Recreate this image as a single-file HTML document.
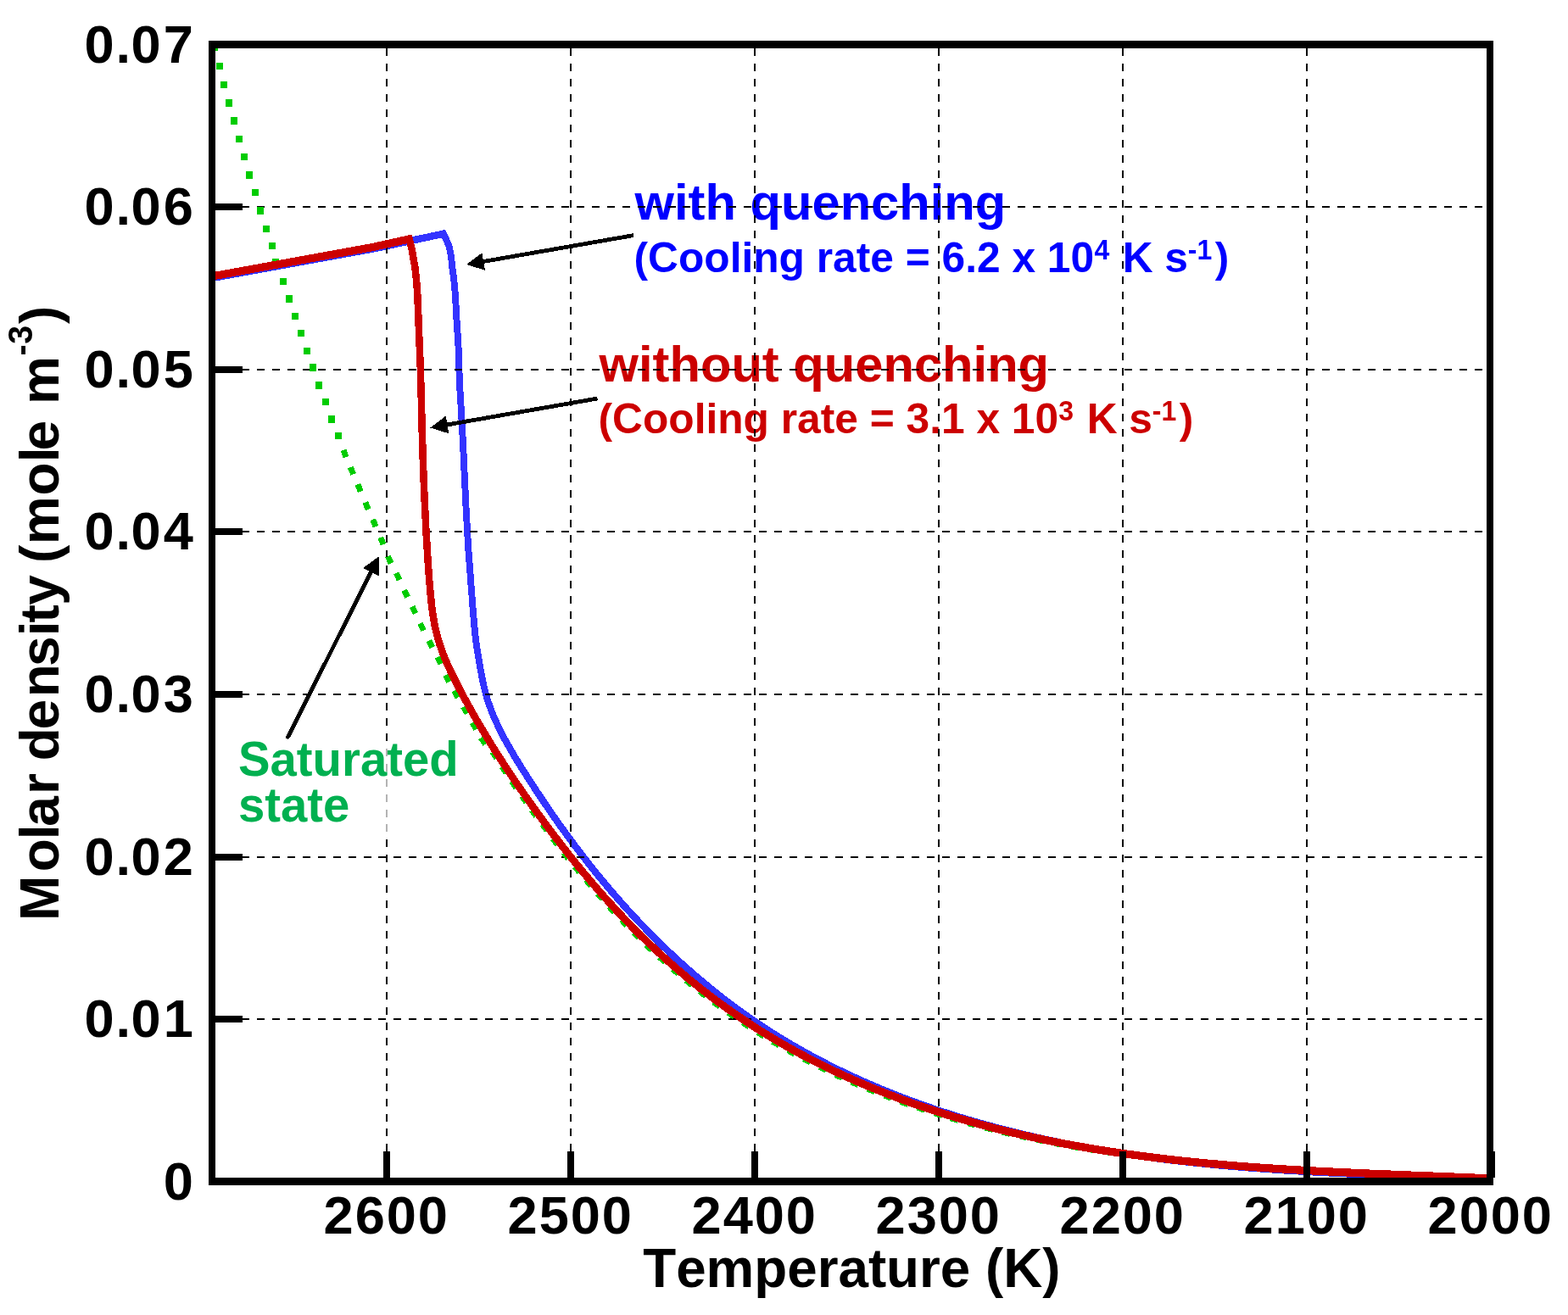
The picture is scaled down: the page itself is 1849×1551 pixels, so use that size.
<!DOCTYPE html>
<html lang="en"><head><meta charset="utf-8"><title>Molar density vs Temperature</title>
<style>
html,body{margin:0;padding:0;background:#fff;}
body{width:1849px;height:1551px;overflow:hidden;}
svg{display:block;}
text{font-family:"Liberation Sans",sans-serif;font-weight:bold;font-kerning:none;white-space:pre;}
</style></head><body>
<svg width="1849" height="1551" viewBox="0 0 1849 1551" shape-rendering="crispEdges">
<rect width="1849" height="1551" fill="#fff"/>

<g fill="#0000ff"><text transform="translate(748.60,259.20) scale(1,1.0)" font-size="59.7">with quenching</text><text transform="translate(747.52,320.80) scale(1,1.02)" font-size="49.7">(Cooling rate = 6.2 x 10</text><text transform="translate(1290.62,306.00) scale(1,1.06)" font-size="32">4</text><text transform="translate(1323.68,320.80) scale(1,1.02)" font-size="49.7">K s</text><text transform="translate(1400.75,306.00) scale(1,1.06)" font-size="32">-1</text><text transform="translate(1432.85,320.80) scale(1,1.02)" font-size="49.7">)</text></g>
<g fill="#cc0000"><text transform="translate(706.60,449.60) scale(1,1.0)" font-size="59.7">without quenching</text><text transform="translate(705.52,511.20) scale(1,1.02)" font-size="49.7">(Cooling rate = 3.1 x 10</text><text transform="translate(1248.37,496.40) scale(1,1.06)" font-size="32">3</text><text transform="translate(1281.68,511.20) scale(1,1.02)" font-size="49.7">K s</text><text transform="translate(1358.75,496.40) scale(1,1.06)" font-size="32">-1</text><text transform="translate(1390.85,511.20) scale(1,1.02)" font-size="49.7">)</text></g>
<clipPath id="cp"><rect x="250" y="52.5" width="1507" height="1341.0"/></clipPath>
<g clip-path="url(#cp)" fill="none" stroke-linejoin="miter" stroke-miterlimit="10">
<path transform="scale(1,1.08)" d="M250.0,303.70 L440.0,271.67 L523.0,255.28 L529.3,268.06 L532.0,279.63 L533.2,291.67 L533.3,292.37 L533.4,293.07 L533.6,293.77 L533.7,294.47 L533.8,295.17 L533.9,295.87 L534.0,296.57 L534.1,297.27 L534.2,297.97 L534.3,298.67 L534.4,299.38 L534.5,300.08 L534.6,300.78 L534.7,301.48 L534.8,302.18 L534.9,302.89 L535.0,303.59 L535.1,304.29 L535.2,305.00 L535.3,305.70 L535.3,306.40 L535.4,307.11 L535.5,307.81 L535.6,308.52 L535.7,309.22 L535.7,309.92 L535.8,310.63 L535.9,311.33 L535.9,312.04 L536.0,312.74 L536.1,313.45 L536.1,314.15 L536.2,314.86 L536.3,315.56 L536.3,316.27 L536.4,316.97 L536.5,317.68 L536.5,318.39 L536.6,319.09 L536.6,319.80 L536.7,320.50 L536.7,321.21 L536.8,321.92 L536.8,322.62 L536.9,323.33 L536.9,324.03 L537.0,324.74 L537.0,325.45 L537.1,326.15 L537.1,326.86 L537.2,327.57 L537.2,328.27 L537.3,328.98 L537.3,329.69 L537.4,330.39 L537.4,331.10 L537.5,331.81 L537.5,332.51 L537.5,333.22 L537.6,333.93 L537.6,334.63 L537.7,335.34 L537.7,336.05 L537.7,336.75 L537.8,337.46 L537.8,338.17 L537.9,338.88 L537.9,339.58 L538.0,340.29 L538.0,341.00 L538.0,341.70 L538.1,342.41 L538.1,343.12 L538.2,343.82 L538.2,344.53 L538.2,345.24 L538.3,345.94 L538.3,346.65 L538.4,347.36 L538.4,348.06 L538.5,348.77 L538.5,349.48 L538.6,350.18 L538.6,350.89 L538.6,351.60 L538.7,352.30 L538.7,353.01 L538.8,353.72 L538.8,354.42 L538.9,355.13 L538.9,355.83 L539.0,356.54 L539.1,357.25 L539.1,357.95 L539.2,358.66 L539.2,359.37 L539.3,360.07 L539.3,360.78 L539.4,361.48 L539.4,362.19 L539.5,362.90 L539.5,363.60 L539.6,364.31 L539.6,365.01 L539.7,365.72 L539.7,366.43 L539.8,367.13 L539.8,367.84 L539.9,368.55 L539.9,369.25 L540.0,369.96 L540.0,370.66 L540.1,371.37 L540.1,372.08 L540.2,372.78 L540.2,373.49 L540.3,374.20 L540.3,374.90 L540.3,375.61 L540.4,376.32 L540.4,377.02 L540.5,377.73 L540.5,378.44 L540.5,379.14 L540.6,379.85 L540.7,383.22 L540.8,386.58 L540.9,389.95 L541.1,393.32 L541.2,396.69 L541.3,400.06 L541.4,403.42 L541.5,406.79 L541.7,410.16 L541.8,413.52 L542.0,416.89 L542.2,420.25 L542.3,423.62 L542.5,426.98 L542.7,430.35 L542.9,433.71 L543.2,437.07 L543.4,440.44 L543.6,443.80 L543.8,447.16 L544.0,450.53 L544.2,453.89 L544.4,457.25 L544.6,460.62 L544.8,463.98 L545.0,467.34 L545.2,470.71 L545.4,474.07 L545.6,477.44 L545.8,480.80 L546.0,484.17 L546.2,487.53 L546.3,490.90 L546.5,494.26 L546.7,497.63 L546.9,501.00 L547.0,504.36 L547.2,507.73 L547.4,511.09 L547.5,514.46 L547.7,517.82 L547.9,521.19 L548.0,524.56 L548.2,527.92 L548.4,531.29 L548.5,534.65 L548.7,538.02 L548.9,541.38 L549.1,544.75 L549.2,548.11 L549.4,551.48 L549.6,554.84 L549.8,558.21 L550.0,561.57 L550.2,564.93 L550.4,568.30 L550.6,571.66 L550.8,575.03 L551.0,578.39 L551.2,581.75 L551.4,585.11 L551.6,588.48 L551.8,591.84 L552.1,595.20 L552.3,598.56 L552.5,601.92 L552.8,605.28 L553.1,608.64 L553.3,612.00 L553.6,615.36 L553.9,618.72 L554.1,622.08 L554.4,625.44 L554.7,628.79 L555.0,632.15 L555.2,635.51 L555.5,638.87 L555.8,642.23 L556.1,645.59 L556.4,648.95 L556.6,652.31 L556.9,655.67 L557.2,659.03 L557.4,662.39 L557.7,665.76 L558.0,669.12 L558.3,672.47 L558.6,675.83 L558.9,679.19 L559.2,682.54 L559.6,685.89 L559.9,689.24 L560.3,692.58 L560.7,695.92 L561.2,699.26 L561.7,702.59 L562.2,705.92 L562.7,709.24 L563.3,712.57 L563.9,715.89 L564.4,719.22 L565.0,722.55 L565.7,725.88 L566.3,729.21 L566.9,732.55 L567.6,735.88 L568.2,739.20 L569.0,742.52 L569.7,745.83 L570.5,749.12 L571.4,752.40 L572.3,755.66 L573.2,758.91 L574.2,762.13 L575.3,765.34 L576.5,768.52 L577.7,771.68 L578.9,774.83 L580.2,777.96 L581.6,781.07 L583.0,784.16 L584.5,787.24 L586.0,790.30 L587.5,793.34 L589.1,796.37 L590.7,799.39 L592.4,802.39 L594.1,805.38 L595.8,808.36 L597.6,811.32 L599.4,814.27 L601.2,817.21 L603.0,820.14 L604.9,823.06 L606.7,825.97 L608.6,828.88 L610.5,831.77 L612.5,834.65 L614.4,837.53 L616.3,840.40 L618.3,843.27 L620.3,846.12 L622.2,848.97 L624.2,851.82 L626.2,854.66 L628.2,857.49 L630.1,860.32 L632.1,863.14 L634.1,865.96 L636.2,868.77 L638.2,871.57 L640.2,874.37 L642.2,877.16 L644.3,879.94 L646.3,882.72 L648.4,885.49 L650.4,888.26 L652.5,891.02 L654.6,893.77 L656.6,896.52 L658.7,899.26 L660.8,901.99 L662.9,904.72 L665.1,907.44 L667.2,910.15 L669.3,912.86 L671.5,915.56 L673.6,918.26 L675.8,920.95 L677.9,923.63 L680.1,926.30 L682.3,928.97 L684.5,931.64 L686.7,934.29 L688.9,936.94 L691.1,939.58 L693.3,942.22 L695.6,944.85 L697.8,947.47 L700.1,950.08 L702.4,952.69 L704.6,955.29 L706.9,957.89 L709.2,960.48 L711.5,963.06 L713.9,965.63 L716.2,968.20 L718.5,970.76 L720.9,973.32 L723.3,975.86 L725.6,978.40 L728.0,980.94 L730.4,983.46 L732.8,985.98 L735.3,988.49 L737.7,991.00 L740.1,993.50 L742.6,995.98 L745.0,998.47 L747.5,1000.94 L750.0,1003.41 L752.5,1005.87 L755.0,1008.32 L757.5,1010.76 L760.1,1013.19 L762.6,1015.62 L765.2,1018.03 L767.7,1020.44 L770.3,1022.84 L772.9,1025.23 L775.5,1027.61 L778.1,1029.98 L780.7,1032.35 L783.3,1034.70 L786.0,1037.04 L788.6,1039.38 L791.3,1041.70 L793.9,1044.01 L796.6,1046.32 L799.3,1048.61 L802.0,1050.89 L804.7,1053.17 L807.4,1055.43 L810.2,1057.68 L812.9,1059.92 L815.7,1062.15 L818.4,1064.37 L821.2,1066.57 L824.0,1068.77 L826.8,1070.96 L829.6,1073.13 L832.4,1075.29 L835.2,1077.44 L838.0,1079.58 L840.9,1081.70 L843.7,1083.82 L846.6,1085.92 L849.5,1088.00 L852.3,1090.08 L855.2,1092.14 L858.1,1094.19 L861.0,1096.23 L864.0,1098.26 L866.9,1100.27 L869.8,1102.27 L872.8,1104.25 L875.7,1106.22 L878.7,1108.18 L881.7,1110.12 L884.7,1112.05 L887.7,1113.97 L890.7,1115.87 L893.7,1117.76 L896.7,1119.63 L899.7,1121.49 L902.8,1123.33 L905.8,1125.17 L908.9,1126.98 L911.9,1128.79 L915.0,1130.57 L918.1,1132.35 L921.2,1134.11 L924.3,1135.86 L927.4,1137.59 L930.5,1139.32 L933.6,1141.02 L936.8,1142.72 L939.9,1144.40 L943.1,1146.06 L946.2,1147.72 L949.4,1149.36 L952.6,1150.99 L955.8,1152.60 L958.9,1154.20 L962.1,1155.79 L965.3,1157.36 L968.6,1158.92 L971.8,1160.47 L975.0,1162.01 L978.2,1163.53 L981.5,1165.04 L984.7,1166.54 L988.0,1168.02 L991.2,1169.50 L994.5,1170.96 L997.8,1172.40 L1001.1,1173.84 L1004.4,1175.26 L1007.6,1176.67 L1010.9,1178.07 L1014.3,1179.45 L1017.6,1180.83 L1020.9,1182.19 L1024.2,1183.54 L1027.5,1184.87 L1030.9,1186.20 L1034.2,1187.51 L1037.6,1188.81 L1040.9,1190.10 L1044.3,1191.38 L1047.7,1192.65 L1051.0,1193.90 L1054.4,1195.14 L1057.8,1196.37 L1061.2,1197.59 L1064.6,1198.80 L1068.0,1200.00 L1071.4,1201.18 L1074.8,1202.36 L1078.2,1203.52 L1081.6,1204.67 L1085.0,1205.81 L1088.5,1206.94 L1091.9,1208.06 L1095.3,1209.16 L1098.8,1210.26 L1102.2,1211.34 L1105.7,1212.42 L1109.1,1213.48 L1112.6,1214.53 L1116.1,1215.57 L1119.5,1216.60 L1123.0,1217.62 L1126.5,1218.63 L1130.0,1219.63 L1133.4,1220.62 L1136.9,1221.60 L1140.4,1222.57 L1143.9,1223.53 L1147.4,1224.47 L1150.9,1225.41 L1154.4,1226.34 L1157.9,1227.26 L1161.4,1228.16 L1164.9,1229.06 L1168.5,1229.95 L1172.0,1230.82 L1175.5,1231.69 L1179.0,1232.55 L1182.5,1233.40 L1186.1,1234.24 L1189.6,1235.06 L1193.1,1235.88 L1196.7,1236.69 L1200.2,1237.49 L1203.8,1238.28 L1207.3,1239.06 L1210.9,1239.84 L1214.4,1240.60 L1218.0,1241.35 L1221.5,1242.10 L1225.1,1242.83 L1228.6,1243.56 L1232.2,1244.27 L1235.7,1244.98 L1239.3,1245.68 L1242.9,1246.37 L1246.4,1247.05 L1250.0,1247.73 L1253.5,1248.39 L1257.1,1249.05 L1260.7,1249.69 L1264.3,1250.33 L1267.8,1250.96 L1271.4,1251.58 L1275.0,1252.20 L1278.6,1252.81 L1282.1,1253.40 L1285.7,1253.99 L1289.3,1254.57 L1292.9,1255.15 L1296.5,1255.72 L1300.1,1256.27 L1303.6,1256.82 L1307.2,1257.37 L1310.8,1257.90 L1314.4,1258.43 L1318.0,1258.95 L1321.6,1259.47 L1325.2,1259.97 L1328.8,1260.47 L1332.4,1260.96 L1336.0,1261.45 L1339.6,1261.93 L1343.2,1262.40 L1346.8,1262.86 L1350.4,1263.32 L1354.0,1263.77 L1357.6,1264.21 L1361.2,1264.65 L1364.8,1265.08 L1368.4,1265.51 L1372.1,1265.92 L1375.7,1266.34 L1379.3,1266.74 L1382.9,1267.14 L1386.5,1267.53 L1390.1,1267.92 L1393.7,1268.30 L1397.4,1268.68 L1401.0,1269.04 L1404.6,1269.41 L1408.2,1269.77 L1411.8,1270.12 L1415.4,1270.46 L1419.1,1270.80 L1422.7,1271.14 L1426.3,1271.47 L1429.9,1271.79 L1433.6,1272.11 L1437.2,1272.43 L1440.8,1272.74 L1444.4,1273.04 L1448.1,1273.34 L1451.7,1273.63 L1455.3,1273.92 L1459.0,1274.20 L1462.6,1274.48 L1466.2,1274.76 L1469.9,1275.03 L1473.5,1275.29 L1477.1,1275.55 L1480.7,1275.81 L1484.4,1276.06 L1488.0,1276.31 L1491.6,1276.56 L1495.3,1276.79 L1498.9,1277.03 L1502.6,1277.26 L1506.2,1277.49 L1509.8,1277.71 L1513.5,1277.93 L1517.1,1278.15 L1520.7,1278.36 L1524.4,1278.57 L1528.0,1278.78 L1531.6,1278.98 L1535.3,1279.18 L1538.9,1279.37 L1542.6,1279.56 L1546.2,1279.75 L1549.8,1279.94 L1553.5,1280.12 L1557.1,1280.30 L1560.8,1280.47 L1564.4,1280.65 L1568.0,1280.82 L1571.7,1280.99 L1575.3,1281.15 L1578.9,1281.31 L1582.6,1281.47 L1586.2,1281.63 L1589.9,1281.79 L1593.5,1281.94 L1597.1,1282.09 L1600.8,1282.24 L1604.4,1282.38 L1608.1,1282.53 L1611.7,1282.67 L1615.3,1282.81 L1619.0,1282.95 L1622.6,1283.09 L1626.2,1283.22 L1629.9,1283.35 L1633.5,1283.48 L1637.2,1283.61 L1640.8,1283.74 L1644.4,1283.87 L1648.1,1283.99 L1651.7,1284.12 L1655.3,1284.24 L1659.0,1284.36 L1662.6,1284.48 L1666.2,1284.60 L1669.9,1284.72 L1673.5,1284.84 L1677.1,1284.96 L1680.8,1285.07 L1684.4,1285.19 L1688.0,1285.30 L1691.7,1285.42 L1695.3,1285.53 L1698.9,1285.65 L1702.5,1285.76 L1706.2,1285.87 L1709.8,1285.98 L1713.4,1286.10 L1717.1,1286.21 L1720.7,1286.32 L1724.3,1286.43 L1727.9,1286.55 L1731.6,1286.66 L1735.2,1286.77 L1738.8,1286.89 L1742.4,1287.00 L1746.0,1287.11 L1749.7,1287.23 L1753.3,1287.34 L1756.9,1287.46" stroke="#3333ff" stroke-width="7.9"/>
</g>
<g stroke="#000" stroke-width="2" stroke-dasharray="9 8.95" shape-rendering="crispEdges">
<line x1="456" y1="57" x2="456" y2="1389"/>
<line x1="673" y1="57" x2="673" y2="1389"/>
<line x1="890" y1="57" x2="890" y2="1389"/>
<line x1="1107" y1="57" x2="1107" y2="1389"/>
<line x1="1324" y1="57" x2="1324" y2="1389"/>
<line x1="1541" y1="57" x2="1541" y2="1389"/>
<line x1="249" y1="244" x2="1753" y2="244"/>
<line x1="249" y1="436" x2="1753" y2="436"/>
<line x1="249" y1="627" x2="1753" y2="627"/>
<line x1="249" y1="819" x2="1753" y2="819"/>
<line x1="249" y1="1011" x2="1753" y2="1011"/>
<line x1="249" y1="1202" x2="1753" y2="1202"/>
</g>
<g clip-path="url(#cp)">
<g fill="#00cc00">
<rect x="-4.0" y="-4.25" width="8" height="8.5" transform="translate(252.5,56.0) rotate(0)"/>
<rect x="-4.0" y="-4.25" width="8" height="8.5" transform="translate(258.7,78.2) rotate(0)"/>
<rect x="-4.0" y="-4.25" width="8" height="8.5" transform="translate(264.4,99.8) rotate(0)"/>
<rect x="-4.0" y="-4.25" width="8" height="8.5" transform="translate(270.1,121.3) rotate(0)"/>
<rect x="-4.0" y="-4.25" width="8" height="8.5" transform="translate(276.1,142.4) rotate(0)"/>
<rect x="-4.0" y="-4.25" width="8" height="8.5" transform="translate(282.3,163.8) rotate(0)"/>
<rect x="-4.0" y="-4.25" width="8" height="8.5" transform="translate(288.3,185.1) rotate(0)"/>
<rect x="-4.0" y="-4.25" width="8" height="8.5" transform="translate(294.4,206.6) rotate(0)"/>
<rect x="-4.0" y="-4.25" width="8" height="8.5" transform="translate(301.3,226.9) rotate(0)"/>
<rect x="-4.0" y="-4.25" width="8" height="8.5" transform="translate(307.4,248.5) rotate(0)"/>
<rect x="-4.0" y="-4.25" width="8" height="8.5" transform="translate(314.4,270.0) rotate(0)"/>
<rect x="-4.0" y="-4.25" width="8" height="8.5" transform="translate(321.0,289.8) rotate(0)"/>
<rect x="-4.0" y="-4.25" width="8" height="8.5" transform="translate(324.8,309.0) rotate(0)"/>
<rect x="-4.0" y="-4.25" width="8" height="8.5" transform="translate(334.0,332.0) rotate(0)"/>
<rect x="-4.0" y="-4.25" width="8" height="8.5" transform="translate(340.7,352.3) rotate(0)"/>
<rect x="-4.0" y="-4.25" width="8" height="8.5" transform="translate(347.5,373.1) rotate(0)"/>
<rect x="-4.0" y="-4.25" width="8" height="8.5" transform="translate(354.8,393.0) rotate(0)"/>
<rect x="-4.0" y="-4.25" width="8" height="8.5" transform="translate(362.1,414.1) rotate(0)"/>
<rect x="-4.0" y="-4.25" width="8" height="8.5" transform="translate(369.0,433.6) rotate(0)"/>
<rect x="-4.0" y="-4.25" width="8" height="8.5" transform="translate(376.4,454.7) rotate(0)"/>
<rect x="-4.0" y="-4.25" width="8" height="8.5" transform="translate(383.6,474.2) rotate(0)"/>
<rect x="-4.0" y="-4.25" width="8" height="8.5" transform="translate(391.4,494.5) rotate(0)"/>
<rect x="-4.0" y="-4.25" width="8" height="8.5" transform="translate(399.0,514.0) rotate(0)"/>
<rect x="-4.5" y="-3.5" width="9" height="7" transform="translate(406.5,535.0) rotate(69)"/>
<rect x="-4.5" y="-3.5" width="9" height="7" transform="translate(415.0,555.2) rotate(67)"/>
<rect x="-4.5" y="-3.5" width="9" height="7" transform="translate(423.6,575.5) rotate(67)"/>
<rect x="-4.5" y="-3.5" width="9" height="7" transform="translate(432.5,596.7) rotate(67)"/>
<rect x="-4.5" y="-3.5" width="9" height="7" transform="translate(441.4,617.0) rotate(67)"/>
<rect x="-4.5" y="-3.5" width="9" height="7" transform="translate(450.4,638.0) rotate(68)"/>
<rect x="-4.5" y="-3.5" width="9" height="7" transform="translate(459.3,660.3) rotate(66)"/>
<rect x="-4.5" y="-3.5" width="9" height="7" transform="translate(469.1,679.8) rotate(64)"/>
<rect x="-4.5" y="-3.5" width="9" height="7" transform="translate(478.5,700.1) rotate(64)"/>
<rect x="-4.5" y="-3.5" width="9" height="7" transform="translate(488.1,719.6) rotate(64)"/>
<rect x="-4.5" y="-3.5" width="9" height="7" transform="translate(497.5,739.5) rotate(64)"/>
<rect x="-4.5" y="-3.5" width="9" height="7" transform="translate(507.8,759.8) rotate(63)"/>
<rect x="-4.5" y="-3.5" width="9" height="7" transform="translate(517.8,779.0) rotate(64)"/>
<rect x="-4.5" y="-3.5" width="9" height="7" transform="translate(527.6,800.1) rotate(63)"/>
<rect x="-4.5" y="-3.5" width="9" height="7" transform="translate(537.8,818.8) rotate(61)"/>
<rect x="-4.5" y="-3.5" width="9" height="7" transform="translate(548.7,837.5) rotate(60)"/>
<rect x="-4.5" y="-3.5" width="9" height="7" transform="translate(559.3,856.2) rotate(60)"/>
<rect x="-4.5" y="-3.5" width="9" height="7" transform="translate(569.8,874.0) rotate(55)"/>
<rect x="-4.5" y="-3.5" width="9" height="7" transform="translate(583.2,890.5) rotate(54)"/>
<rect x="-4.5" y="-3.5" width="9" height="7" transform="translate(594.6,908.0) rotate(57)"/>
<rect x="-4.5" y="-3.5" width="9" height="7" transform="translate(606.2,925.4) rotate(56)"/>
<rect x="-4.5" y="-3.5" width="9" height="7" transform="translate(618.1,942.6) rotate(55)"/>
<rect x="-4.5" y="-3.5" width="9" height="7" transform="translate(629.8,959.1) rotate(54)"/>
<rect x="-4.5" y="-3.5" width="9" height="7" transform="translate(642.2,975.9) rotate(53)"/>
<rect x="-4.5" y="-3.5" width="9" height="7" transform="translate(654.7,992.6) rotate(53)"/>
<rect x="-4.5" y="-3.5" width="9" height="7" transform="translate(667.5,1009.1) rotate(52)"/>
<rect x="-4.5" y="-3.5" width="9" height="7" transform="translate(680.6,1025.4) rotate(51)"/>
<rect x="-4.5" y="-3.5" width="9" height="7" transform="translate(694.0,1041.4) rotate(50)"/>
<rect x="-4.5" y="-3.5" width="9" height="7" transform="translate(707.6,1057.2) rotate(49)"/>
<rect x="-4.5" y="-3.5" width="9" height="7" transform="translate(721.6,1072.8) rotate(47)"/>
<rect x="-4.5" y="-3.5" width="9" height="7" transform="translate(735.9,1088.0) rotate(46)"/>
<rect x="-4.5" y="-3.5" width="9" height="7" transform="translate(750.5,1103.0) rotate(45)"/>
<rect x="-4.5" y="-3.5" width="9" height="7" transform="translate(765.5,1117.6) rotate(44)"/>
<rect x="-4.5" y="-3.5" width="9" height="7" transform="translate(780.9,1131.8) rotate(42)"/>
<rect x="-4.5" y="-3.5" width="9" height="7" transform="translate(796.6,1145.7) rotate(41)"/>
<rect x="-4.5" y="-3.5" width="9" height="7" transform="translate(812.6,1159.2) rotate(39)"/>
<rect x="-4.5" y="-3.5" width="9" height="7" transform="translate(828.5,1171.9) rotate(38)"/>
<rect x="-4.5" y="-3.5" width="9" height="7" transform="translate(845.2,1184.6) rotate(36)"/>
<rect x="-4.5" y="-3.5" width="9" height="7" transform="translate(862.2,1196.8) rotate(35)"/>
<rect x="-4.5" y="-3.5" width="9" height="7" transform="translate(879.6,1208.6) rotate(33)"/>
<rect x="-4.5" y="-3.5" width="9" height="7" transform="translate(897.2,1219.9) rotate(32)"/>
<rect x="-4.5" y="-3.5" width="9" height="7" transform="translate(915.0,1230.7) rotate(30)"/>
<rect x="-4.5" y="-3.5" width="9" height="7" transform="translate(933.2,1241.0) rotate(29)"/>
<rect x="-4.5" y="-3.5" width="9" height="7" transform="translate(951.6,1250.9) rotate(28)"/>
<rect x="-4.5" y="-3.5" width="9" height="7" transform="translate(970.2,1260.4) rotate(26)"/>
<rect x="-4.5" y="-3.5" width="9" height="7" transform="translate(989.0,1269.4) rotate(25)"/>
<rect x="-4.5" y="-3.5" width="9" height="7" transform="translate(1008.1,1277.9) rotate(23)"/>
<rect x="-4.5" y="-3.5" width="9" height="7" transform="translate(1027.4,1286.0) rotate(22)"/>
<rect x="-4.5" y="-3.5" width="9" height="7" transform="translate(1046.8,1293.6) rotate(21)"/>
<rect x="-4.5" y="-3.5" width="9" height="7" transform="translate(1066.5,1300.9) rotate(20)"/>
<rect x="-4.5" y="-3.5" width="9" height="7" transform="translate(1086.2,1307.7) rotate(19)"/>
<rect x="-4.5" y="-3.5" width="9" height="7" transform="translate(1106.2,1314.1) rotate(17)"/>
<rect x="-4.5" y="-3.5" width="9" height="7" transform="translate(1125.6,1320.1) rotate(16)"/>
<rect x="-4.5" y="-3.5" width="9" height="7" transform="translate(1145.7,1325.8) rotate(15)"/>
<rect x="-4.5" y="-3.5" width="9" height="7" transform="translate(1166.0,1331.1) rotate(14)"/>
<rect x="-4.5" y="-3.5" width="9" height="7" transform="translate(1186.3,1336.2) rotate(13)"/>
<rect x="-4.5" y="-3.5" width="9" height="7" transform="translate(1206.7,1340.8) rotate(12)"/>
<rect x="-4.5" y="-3.5" width="9" height="7" transform="translate(1227.1,1345.2) rotate(12)"/>
<rect x="-4.5" y="-3.5" width="9" height="7" transform="translate(1247.6,1349.2) rotate(11)"/>
<rect x="-4.5" y="-3.5" width="9" height="7" transform="translate(1268.1,1352.9) rotate(10)"/>
<rect x="-4.5" y="-3.5" width="9" height="7" transform="translate(1288.1,1356.3) rotate(9)"/>
<rect x="-4.5" y="-3.5" width="9" height="7" transform="translate(1308.7,1359.4) rotate(8)"/>
<rect x="-4.5" y="-3.5" width="9" height="7" transform="translate(1329.3,1362.3) rotate(8)"/>
<rect x="-4.5" y="-3.5" width="9" height="7" transform="translate(1350.0,1365.0) rotate(7)"/>
<rect x="-4.5" y="-3.5" width="9" height="7" transform="translate(1370.7,1367.5) rotate(7)"/>
<rect x="-4.5" y="-3.5" width="9" height="7" transform="translate(1391.4,1369.8) rotate(6)"/>
<rect x="-4.5" y="-3.5" width="9" height="7" transform="translate(1412.2,1372.0) rotate(6)"/>
<rect x="-4.5" y="-3.5" width="9" height="7" transform="translate(1432.9,1373.9) rotate(5)"/>
<rect x="-4.5" y="-3.5" width="9" height="7" transform="translate(1453.7,1375.7) rotate(5)"/>
<rect x="-4.5" y="-3.5" width="9" height="7" transform="translate(1474.5,1377.3) rotate(4)"/>
<rect x="-4.5" y="-3.5" width="9" height="7" transform="translate(1495.3,1378.8) rotate(4)"/>
<rect x="-4.5" y="-3.5" width="9" height="7" transform="translate(1516.2,1380.1) rotate(4)"/>
<rect x="-4.5" y="-3.5" width="9" height="7" transform="translate(1537.0,1381.3) rotate(3)"/>
<rect x="-4.5" y="-3.5" width="9" height="7" transform="translate(1557.2,1382.4) rotate(3)"/>
<rect x="-4.5" y="-3.5" width="9" height="7" transform="translate(1578.1,1383.4) rotate(3)"/>
<rect x="-4.5" y="-3.5" width="9" height="7" transform="translate(1598.9,1384.4) rotate(3)"/>
<rect x="-4.5" y="-3.5" width="9" height="7" transform="translate(1619.8,1385.3) rotate(2)"/>
<rect x="-4.5" y="-3.5" width="9" height="7" transform="translate(1640.6,1386.2) rotate(2)"/>
<rect x="-4.5" y="-3.5" width="9" height="7" transform="translate(1661.5,1387.0) rotate(2)"/>
<rect x="-4.5" y="-3.5" width="9" height="7" transform="translate(1682.3,1387.8) rotate(2)"/>
<rect x="-4.5" y="-3.5" width="9" height="7" transform="translate(1703.1,1388.7) rotate(2)"/>
<rect x="-4.5" y="-3.5" width="9" height="7" transform="translate(1723.9,1389.5) rotate(2)"/>
<rect x="-4.5" y="-3.5" width="9" height="7" transform="translate(1744.7,1390.4) rotate(2)"/>
</g>
<path transform="scale(1,1.09)" d="M250.0,299.08 L440.0,267.34 L482.5,258.72 L485.5,269.08 L489.3,288.99 L489.4,289.70 L489.5,290.40 L489.6,291.11 L489.7,291.81 L489.8,292.52 L489.9,293.22 L490.0,293.93 L490.1,294.64 L490.2,295.34 L490.2,296.05 L490.3,296.76 L490.4,297.46 L490.5,298.17 L490.6,298.88 L490.7,299.58 L490.7,300.29 L490.8,301.00 L490.9,301.70 L491.0,302.41 L491.0,303.12 L491.1,303.83 L491.2,304.53 L491.2,305.24 L491.3,305.95 L491.3,306.66 L491.4,307.36 L491.5,308.07 L491.5,308.78 L491.6,309.49 L491.6,310.20 L491.7,310.91 L491.7,311.61 L491.8,312.32 L491.9,313.03 L491.9,313.74 L492.0,314.45 L492.0,315.16 L492.0,315.87 L492.1,316.57 L492.1,317.28 L492.2,317.99 L492.2,318.70 L492.3,319.41 L492.3,320.12 L492.3,320.83 L492.4,321.54 L492.4,322.25 L492.5,322.96 L492.5,323.67 L492.5,324.38 L492.6,325.09 L492.6,325.80 L492.6,326.50 L492.7,327.21 L492.7,327.92 L492.7,328.63 L492.8,329.34 L492.8,330.05 L492.8,330.76 L492.9,331.47 L492.9,332.18 L492.9,332.89 L493.0,333.60 L493.0,334.31 L493.0,335.02 L493.0,335.73 L493.1,336.44 L493.1,337.15 L493.1,337.86 L493.2,338.57 L493.2,339.28 L493.2,339.99 L493.2,340.70 L493.3,341.41 L493.3,342.12 L493.3,342.83 L493.4,343.54 L493.4,344.25 L493.4,344.96 L493.4,345.67 L493.5,346.38 L493.5,347.09 L493.5,347.80 L493.6,348.51 L493.6,349.22 L493.6,349.93 L493.6,350.64 L493.7,351.35 L493.7,352.06 L493.7,352.77 L493.8,353.48 L493.8,354.19 L493.8,354.90 L493.9,355.61 L493.9,356.32 L493.9,357.03 L493.9,357.74 L494.0,358.45 L494.0,359.16 L494.0,359.87 L494.1,360.58 L494.1,361.29 L494.1,362.00 L494.2,362.71 L494.2,363.42 L494.2,364.13 L494.3,364.84 L494.3,365.55 L494.3,366.26 L494.4,366.97 L494.4,367.68 L494.4,368.39 L494.5,369.10 L494.5,369.81 L494.5,370.52 L494.6,371.23 L494.6,371.94 L494.6,372.65 L494.7,373.36 L494.7,374.07 L494.7,374.77 L494.8,375.48 L494.8,376.19 L494.8,376.90 L494.9,377.61 L495.0,380.99 L495.2,384.37 L495.3,387.75 L495.5,391.12 L495.6,394.50 L495.8,397.88 L495.9,401.26 L496.0,404.64 L496.1,408.02 L496.2,411.40 L496.3,414.78 L496.5,418.16 L496.6,421.54 L496.6,424.92 L496.7,428.30 L496.8,431.68 L496.9,435.06 L497.0,438.44 L497.1,441.82 L497.2,445.20 L497.3,448.58 L497.4,451.96 L497.4,455.34 L497.5,458.72 L497.6,462.10 L497.7,465.48 L497.8,468.86 L497.9,472.24 L498.0,475.62 L498.2,479.00 L498.3,482.38 L498.4,485.76 L498.5,489.14 L498.6,492.52 L498.7,495.90 L498.9,499.27 L499.0,502.65 L499.1,506.03 L499.3,509.41 L499.4,512.79 L499.5,516.17 L499.7,519.54 L499.8,522.92 L500.0,526.30 L500.1,529.68 L500.3,533.06 L500.4,536.43 L500.6,539.81 L500.8,543.19 L500.9,546.56 L501.1,549.94 L501.3,553.32 L501.5,556.70 L501.7,560.07 L501.9,563.45 L502.0,566.82 L502.2,570.20 L502.4,573.58 L502.6,576.95 L502.8,580.33 L503.1,583.70 L503.3,587.08 L503.5,590.45 L503.7,593.83 L503.9,597.20 L504.2,600.57 L504.4,603.95 L504.6,607.32 L504.9,610.70 L505.1,614.07 L505.4,617.44 L505.7,620.82 L506.0,624.19 L506.2,627.56 L506.5,630.94 L506.9,634.31 L507.2,637.68 L507.5,641.06 L507.9,644.43 L508.2,647.80 L508.6,651.18 L509.0,654.55 L509.4,657.91 L509.9,661.28 L510.4,664.63 L511.0,667.98 L511.6,671.31 L512.2,674.64 L512.9,677.95 L513.7,681.24 L514.6,684.52 L515.5,687.79 L516.5,691.04 L517.5,694.27 L518.6,697.48 L519.8,700.68 L521.0,703.86 L522.3,707.03 L523.6,710.17 L525.0,713.30 L526.4,716.41 L527.9,719.50 L529.5,722.57 L531.0,725.63 L532.6,728.68 L534.3,731.72 L535.9,734.76 L537.6,737.78 L539.2,740.80 L540.9,743.81 L542.6,746.81 L544.3,749.80 L546.1,752.79 L547.8,755.77 L549.6,758.75 L551.3,761.71 L553.1,764.67 L554.9,767.63 L556.7,770.58 L558.5,773.52 L560.4,776.45 L562.2,779.38 L564.1,782.30 L565.9,785.22 L567.8,788.13 L569.7,791.03 L571.6,793.93 L573.5,796.83 L575.4,799.71 L577.3,802.59 L579.3,805.47 L581.2,808.34 L583.2,811.21 L585.1,814.06 L587.1,816.92 L589.1,819.77 L591.1,822.61 L593.1,825.45 L595.1,828.28 L597.1,831.11 L599.2,833.93 L601.2,836.74 L603.2,839.56 L605.3,842.36 L607.4,845.16 L609.4,847.96 L611.5,850.75 L613.6,853.53 L615.7,856.32 L617.8,859.09 L619.9,861.86 L622.0,864.63 L624.2,867.39 L626.3,870.15 L628.4,872.90 L630.6,875.64 L632.7,878.39 L634.9,881.12 L637.1,883.86 L639.2,886.59 L641.4,889.31 L643.6,892.03 L645.8,894.74 L648.0,897.45 L650.2,900.15 L652.4,902.85 L654.6,905.55 L656.9,908.23 L659.1,910.92 L661.4,913.59 L663.6,916.26 L665.9,918.93 L668.1,921.59 L670.4,924.24 L672.7,926.89 L675.0,929.53 L677.3,932.16 L679.6,934.79 L681.9,937.41 L684.3,940.03 L686.6,942.64 L688.9,945.24 L691.3,947.83 L693.7,950.42 L696.0,953.00 L698.4,955.58 L700.8,958.14 L703.2,960.70 L705.6,963.25 L708.0,965.80 L710.5,968.33 L712.9,970.86 L715.3,973.38 L717.8,975.89 L720.3,978.40 L722.8,980.89 L725.2,983.38 L727.7,985.86 L730.2,988.33 L732.8,990.79 L735.3,993.25 L737.8,995.69 L740.4,998.13 L742.9,1000.55 L745.5,1002.97 L748.1,1005.38 L750.7,1007.78 L753.3,1010.17 L755.9,1012.55 L758.6,1014.92 L761.2,1017.29 L763.8,1019.64 L766.5,1021.98 L769.2,1024.31 L771.9,1026.63 L774.6,1028.95 L777.3,1031.25 L780.0,1033.54 L782.7,1035.82 L785.5,1038.09 L788.2,1040.35 L791.0,1042.60 L793.7,1044.84 L796.5,1047.06 L799.3,1049.28 L802.1,1051.48 L804.9,1053.68 L807.8,1055.86 L810.6,1058.03 L813.4,1060.19 L816.3,1062.34 L819.2,1064.47 L822.1,1066.60 L824.9,1068.71 L827.8,1070.81 L830.7,1072.90 L833.7,1074.97 L836.6,1077.04 L839.5,1079.09 L842.5,1081.13 L845.4,1083.15 L848.4,1085.17 L851.4,1087.17 L854.4,1089.15 L857.4,1091.13 L860.4,1093.09 L863.4,1095.04 L866.4,1096.97 L869.4,1098.89 L872.5,1100.80 L875.5,1102.69 L878.6,1104.57 L881.7,1106.44 L884.7,1108.29 L887.8,1110.13 L890.9,1111.96 L894.0,1113.77 L897.1,1115.57 L900.3,1117.35 L903.4,1119.13 L906.5,1120.88 L909.7,1122.63 L912.8,1124.36 L916.0,1126.08 L919.2,1127.78 L922.4,1129.48 L925.5,1131.15 L928.7,1132.82 L931.9,1134.47 L935.2,1136.11 L938.4,1137.74 L941.6,1139.35 L944.8,1140.95 L948.1,1142.54 L951.3,1144.12 L954.6,1145.68 L957.9,1147.23 L961.1,1148.77 L964.4,1150.29 L967.7,1151.81 L971.0,1153.31 L974.3,1154.79 L977.6,1156.27 L980.9,1157.73 L984.2,1159.18 L987.6,1160.62 L990.9,1162.05 L994.2,1163.46 L997.6,1164.86 L1000.9,1166.25 L1004.3,1167.63 L1007.7,1169.00 L1011.0,1170.35 L1014.4,1171.69 L1017.8,1173.02 L1021.2,1174.34 L1024.6,1175.65 L1028.0,1176.94 L1031.4,1178.22 L1034.8,1179.50 L1038.2,1180.75 L1041.7,1182.00 L1045.1,1183.24 L1048.5,1184.46 L1052.0,1185.68 L1055.4,1186.88 L1058.9,1188.07 L1062.3,1189.25 L1065.8,1190.42 L1069.2,1191.58 L1072.7,1192.72 L1076.2,1193.86 L1079.7,1194.98 L1083.2,1196.10 L1086.6,1197.20 L1090.1,1198.29 L1093.6,1199.37 L1097.1,1200.44 L1100.6,1201.50 L1104.1,1202.54 L1107.7,1203.58 L1111.2,1204.61 L1114.7,1205.62 L1118.2,1206.63 L1121.8,1207.62 L1125.3,1208.61 L1128.8,1209.58 L1132.4,1210.54 L1135.9,1211.50 L1139.5,1212.44 L1143.0,1213.37 L1146.6,1214.30 L1150.1,1215.21 L1153.7,1216.11 L1157.2,1217.00 L1160.8,1217.88 L1164.4,1218.75 L1167.9,1219.62 L1171.5,1220.47 L1175.1,1221.31 L1178.7,1222.14 L1182.3,1222.97 L1185.8,1223.78 L1189.4,1224.58 L1193.0,1225.37 L1196.6,1226.16 L1200.2,1226.93 L1203.8,1227.70 L1207.4,1228.45 L1211.0,1229.20 L1214.6,1229.94 L1218.2,1230.66 L1221.8,1231.38 L1225.4,1232.09 L1229.0,1232.79 L1232.6,1233.48 L1236.2,1234.16 L1239.9,1234.83 L1243.5,1235.50 L1247.1,1236.15 L1250.7,1236.80 L1254.3,1237.43 L1257.9,1238.06 L1261.6,1238.68 L1265.2,1239.29 L1268.8,1239.90 L1272.4,1240.49 L1276.1,1241.08 L1279.7,1241.66 L1283.3,1242.23 L1286.9,1242.79 L1290.6,1243.35 L1294.2,1243.89 L1297.8,1244.43 L1301.5,1244.96 L1305.1,1245.49 L1308.8,1246.00 L1312.4,1246.51 L1316.0,1247.01 L1319.7,1247.51 L1323.3,1247.99 L1327.0,1248.47 L1330.6,1248.95 L1334.3,1249.41 L1337.9,1249.87 L1341.6,1250.32 L1345.2,1250.77 L1348.9,1251.20 L1352.5,1251.63 L1356.2,1252.06 L1359.8,1252.48 L1363.5,1252.89 L1367.1,1253.29 L1370.8,1253.69 L1374.4,1254.08 L1378.1,1254.47 L1381.8,1254.85 L1385.4,1255.23 L1389.1,1255.59 L1392.7,1255.96 L1396.4,1256.31 L1400.1,1256.67 L1403.7,1257.01 L1407.4,1257.35 L1411.1,1257.68 L1414.7,1258.01 L1418.4,1258.34 L1422.1,1258.66 L1425.7,1258.97 L1429.4,1259.28 L1433.1,1259.58 L1436.7,1259.88 L1440.4,1260.17 L1444.1,1260.46 L1447.8,1260.74 L1451.4,1261.02 L1455.1,1261.30 L1458.8,1261.57 L1462.5,1261.83 L1466.1,1262.09 L1469.8,1262.35 L1473.5,1262.60 L1477.2,1262.85 L1480.9,1263.09 L1484.5,1263.33 L1488.2,1263.57 L1491.9,1263.80 L1495.6,1264.03 L1499.2,1264.25 L1502.9,1264.47 L1506.6,1264.69 L1510.3,1264.91 L1514.0,1265.12 L1517.7,1265.32 L1521.3,1265.53 L1525.0,1265.73 L1528.7,1265.93 L1532.4,1266.12 L1536.1,1266.31 L1539.8,1266.50 L1543.4,1266.69 L1547.1,1266.87 L1550.8,1267.05 L1554.5,1267.23 L1558.2,1267.40 L1561.9,1267.58 L1565.5,1267.75 L1569.2,1267.91 L1572.9,1268.08 L1576.6,1268.24 L1580.3,1268.40 L1584.0,1268.56 L1587.7,1268.72 L1591.3,1268.88 L1595.0,1269.03 L1598.7,1269.18 L1602.4,1269.33 L1606.1,1269.48 L1609.8,1269.63 L1613.5,1269.78 L1617.1,1269.92 L1620.8,1270.06 L1624.5,1270.21 L1628.2,1270.35 L1631.9,1270.49 L1635.6,1270.62 L1639.2,1270.76 L1642.9,1270.90 L1646.6,1271.04 L1650.3,1271.17 L1654.0,1271.31 L1657.7,1271.44 L1661.3,1271.58 L1665.0,1271.71 L1668.7,1271.84 L1672.4,1271.97 L1676.1,1272.11 L1679.8,1272.24 L1683.4,1272.37 L1687.1,1272.51 L1690.8,1272.64 L1694.5,1272.77 L1698.1,1272.91 L1701.8,1273.04 L1705.5,1273.17 L1709.2,1273.31 L1712.9,1273.44 L1716.5,1273.58 L1720.2,1273.71 L1723.9,1273.85 L1727.6,1273.99 L1731.2,1274.13 L1734.9,1274.27 L1738.6,1274.41 L1742.3,1274.55 L1745.9,1274.70 L1749.6,1274.84 L1753.3,1274.99 L1756.9,1275.13" stroke="#cc0000" stroke-width="8.5" fill="none" stroke-linejoin="miter" stroke-miterlimit="10"/>
</g>
<g fill="#000" shape-rendering="crispEdges">
<rect x="246" y="48" width="8" height="1350"/>
<rect x="1753" y="48" width="8" height="1350"/>
<rect x="246" y="48" width="1515" height="9"/>
<rect x="246" y="1389" width="1515" height="9"/>
<rect x="254" y="240" width="32" height="8"/>
<rect x="254" y="432" width="32" height="8"/>
<rect x="254" y="623" width="32" height="8"/>
<rect x="254" y="815" width="32" height="8"/>
<rect x="254" y="1007" width="32" height="8"/>
<rect x="254" y="1198" width="32" height="8"/>
<rect x="452" y="1358" width="8" height="31"/>
<rect x="669" y="1358" width="8" height="31"/>
<rect x="886" y="1358" width="8" height="31"/>
<rect x="1103" y="1358" width="8" height="31"/>
<rect x="1320" y="1358" width="8" height="31"/>
<rect x="1537" y="1358" width="8" height="31"/>
<rect x="1755" y="1358" width="8" height="31"/>
</g>
<g fill="#000">
<text transform="translate(0,73.90) scale(1,1.005)" font-size="63.2" x="99.5 136.6 154.4 192.7" y="0">0.07</text>
<text transform="translate(0,265.40) scale(1,1.005)" font-size="63.2" x="99.5 136.6 154.4 192.7" y="0">0.06</text>
<text transform="translate(0,457.40) scale(1,1.005)" font-size="63.2" x="99.5 136.6 154.4 192.7" y="0">0.05</text>
<text transform="translate(0,648.40) scale(1,1.005)" font-size="63.2" x="99.5 136.6 154.4 192.7" y="0">0.04</text>
<text transform="translate(0,840.40) scale(1,1.005)" font-size="63.2" x="99.5 136.6 154.4 192.7" y="0">0.03</text>
<text transform="translate(0,1032.40) scale(1,1.005)" font-size="63.2" x="99.5 136.6 154.4 192.7" y="0">0.02</text>
<text transform="translate(0,1223.40) scale(1,1.005)" font-size="63.2" x="99.5 136.6 154.4 192.7" y="0">0.01</text>
<text transform="translate(0,1414.90) scale(1,1.005)" font-size="63.2" x="192.7" y="0">0</text>
<text transform="translate(381.58,1454.50) scale(1,1.005)" font-size="63.2" letter-spacing="1.95">2600</text>
<text transform="translate(598.58,1454.50) scale(1,1.005)" font-size="63.2" letter-spacing="1.95">2500</text>
<text transform="translate(815.58,1454.50) scale(1,1.005)" font-size="63.2" letter-spacing="1.95">2400</text>
<text transform="translate(1032.58,1454.50) scale(1,1.005)" font-size="63.2" letter-spacing="1.95">2300</text>
<text transform="translate(1249.58,1454.50) scale(1,1.005)" font-size="63.2" letter-spacing="1.95">2200</text>
<text transform="translate(1466.58,1454.50) scale(1,1.005)" font-size="63.2" letter-spacing="1.95">2100</text>
<text transform="translate(1683.58,1454.50) scale(1,1.005)" font-size="63.2" letter-spacing="1.95">2000</text>
<text transform="translate(758.20,1517.60) scale(1,1.03)" font-size="63.75">Temperature (K)</text>
<g transform="translate(69.1,1086.0) rotate(-90)">
<text transform="scale(1,1.0)" font-size="64" x="-0.1 57.8 95.8 111.2 148.9 173.8 188.7 225.5 263.8 300.0 335.7 351.4 372.3 407.9 422.0 443.8 501.6 540.7 554.5 590.1 608.9" y="0">Molar density (mole m</text>
<text transform="translate(0,-31.6) scale(1,1.02)" font-size="39.5" x="666.5 680.3" y="0">-3</text>
<text transform="translate(703.94,0.00) scale(1,1.0)" font-size="64">)</text>
</g>
</g>
<rect x="270" y="881" width="280" height="101" fill="#fff" fill-opacity="0.7"/>
<g fill="#00b050"><text transform="translate(281.00,915.00) scale(1,1.005)" font-size="56.3">Saturated</text><text transform="translate(281.00,969.00) scale(1,1.005)" font-size="56.3">state</text></g>
<line x1="747.0" y1="277.6" x2="568.2" y2="308.8" stroke="#000" stroke-width="4.8" stroke-linecap="butt"/><polygon points="550.0,312.0 568.4,298.1 572.0,318.8" fill="#000"/>
<line x1="704.6" y1="470.0" x2="525.5" y2="501.3" stroke="#000" stroke-width="4.8" stroke-linecap="butt"/><polygon points="507.3,504.5 525.7,490.6 529.3,511.3" fill="#000"/>
<line x1="339.5" y1="869.2" x2="438.5" y2="672.8" stroke="#000" stroke-width="4.8" stroke-linecap="round"/><polygon points="446.8,656.3 447.0,679.3 428.2,669.9" fill="#000"/>
</svg></body></html>
